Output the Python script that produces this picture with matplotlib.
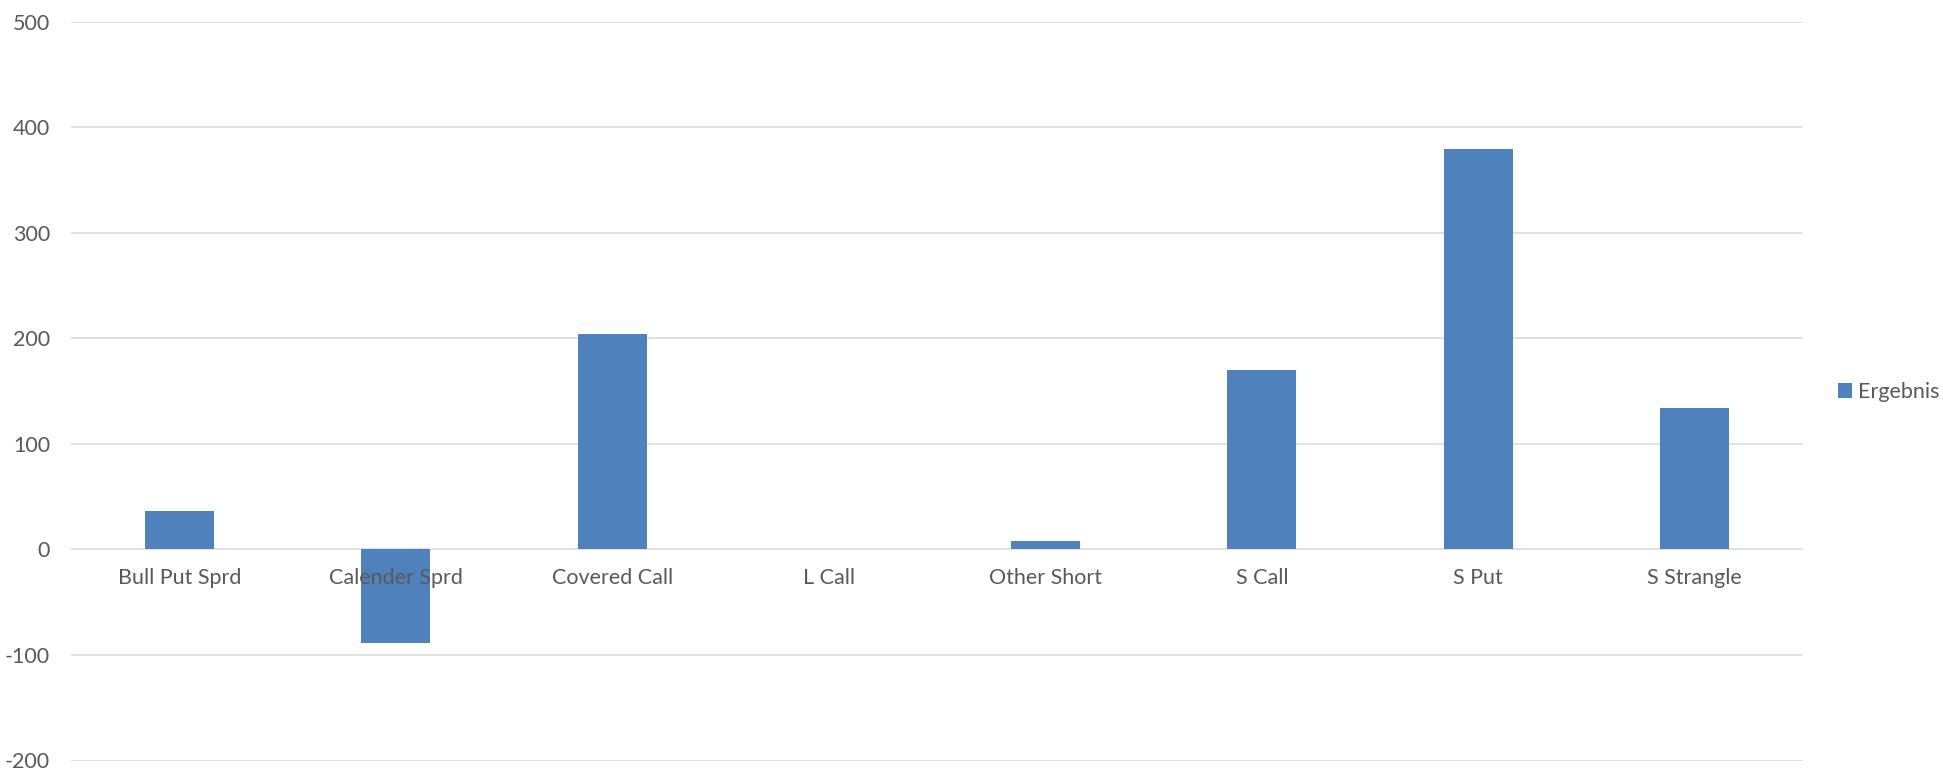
import matplotlib
matplotlib.use("Agg")
import matplotlib.pyplot as plt

categories = ["Bull Put Sprd", "Calender Sprd", "Covered Call", "L Call",
              "Other Short", "S Call", "S Put", "S Strangle"]
values = [36.5, -88.5, 204, 0, 8, 170, 379, 134]
series_name = "Ergebnis"
yticks = [-200, -100, 0, 100, 200, 300, 400, 500]

plt.rcParams['font.family'] = ['Lato', 'DejaVu Sans']
TXT = '#595959'
GRID = '#d9d9d9'
BAR = '#4F81BD'

fig = plt.figure(figsize=(19.43, 7.69), dpi=100)
ax = fig.add_axes([71/1943, 1-760.5/769, (1803-71)/1943, (760.5-21.5)/769])

x = list(range(len(categories)))
ax.bar(x, values, width=0.32, color=BAR, label=series_name, zorder=3)

ax.set_xlim(-0.5, len(categories) - 0.5)
ax.set_ylim(-200, 500)
ax.set_yticks(yticks)
ax.set_yticklabels([str(v) for v in yticks])
ax.tick_params(axis='y', length=0, pad=15, labelsize=15.5, labelcolor=TXT)
ax.set_xticks([])
for yv in yticks:
    ax.axhline(yv, color=GRID, lw=1.1, zorder=1)
for s in ax.spines.values():
    s.set_visible(False)

for i, c in enumerate(categories):
    ax.annotate(c, xy=(i, 0), xytext=(0, -20.5), textcoords='offset points',
                ha='center', va='center', fontsize=15.5, color=TXT, zorder=4)

fig.legend(loc='center left', bbox_to_anchor=(1838/1943, 1-392/769),
           frameon=False, fontsize=15.5, labelcolor=TXT,
           handlelength=0.65, handleheight=0.65, handletextpad=0.3,
           borderaxespad=0, borderpad=0)

fig.savefig("out.png", dpi=100)
